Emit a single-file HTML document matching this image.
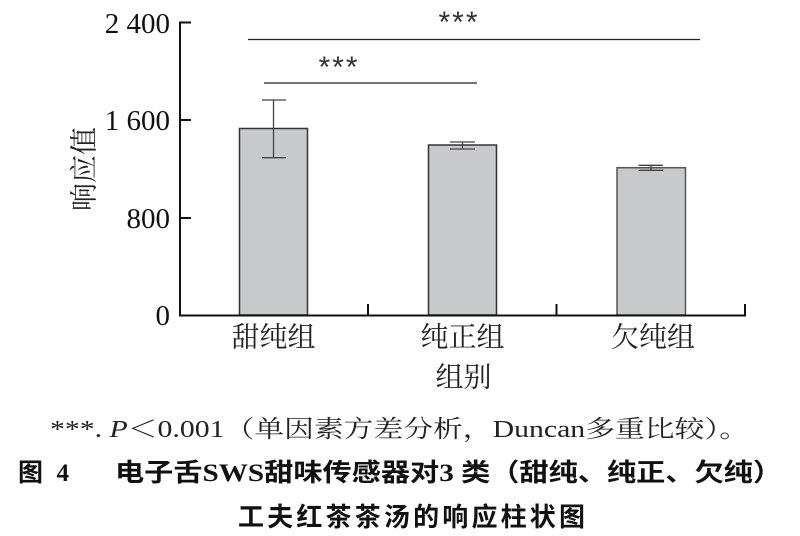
<!DOCTYPE html>
<html><head><meta charset="utf-8"><style>
html,body{margin:0;padding:0;background:#fff;}
svg{display:block;}
.num{font-family:"Liberation Serif",serif;font-size:29px;fill:#111;}
.cj{font-family:"Liberation Serif","Noto Serif CJK SC",serif;fill:#222;}
.bd{font-family:"Liberation Serif","Noto Sans CJK SC",sans-serif;font-weight:bold;fill:#111;}
</style></head><body>
<svg width="800" height="536" viewBox="0 0 800 536" xmlns="http://www.w3.org/2000/svg">
<!-- bars -->
<g fill="#c8c9cb" stroke="#333" stroke-width="1.5">
<rect x="239.5" y="128.5" width="68" height="186.5"/>
<rect x="428.5" y="145" width="68" height="170"/>
<rect x="617" y="167.7" width="68.5" height="147.3" stroke="#555"/>
</g>
<!-- error bars -->
<g stroke="#444" stroke-width="1.3" fill="none">
<line x1="273.5" y1="100" x2="273.5" y2="157.7"/>
<line x1="262" y1="100" x2="286" y2="100"/>
<line x1="262" y1="157.7" x2="286" y2="157.7"/>
<line x1="462.5" y1="142" x2="462.5" y2="149"/>
<line x1="450" y1="142" x2="475" y2="142"/>
<line x1="450" y1="149" x2="475" y2="149"/>
<line x1="651" y1="165.3" x2="651" y2="170.3"/>
<line x1="638.5" y1="165.3" x2="663" y2="165.3"/>
<line x1="638.5" y1="170.3" x2="663" y2="170.3"/>
</g>
<!-- axes -->
<g stroke="#111" stroke-width="2" fill="none">
<line x1="180" y1="21.5" x2="180" y2="316"/>
<line x1="179" y1="315.5" x2="746" y2="315.5"/>
<line x1="180" y1="22.5" x2="191" y2="22.5"/>
<line x1="180" y1="120" x2="191" y2="120"/>
<line x1="180" y1="218" x2="191" y2="218"/>
<line x1="368" y1="304" x2="368" y2="315"/>
<line x1="556.5" y1="304" x2="556.5" y2="315"/>
<line x1="745" y1="304" x2="745" y2="316"/>
</g>
<!-- significance lines -->
<g stroke="#222" stroke-width="1.3">
<line x1="248" y1="39.5" x2="700" y2="39.5"/>
<line x1="264" y1="83" x2="477" y2="83"/>
</g>
<text x="459" y="32" text-anchor="middle" font-family="Liberation Sans, sans-serif" font-size="30" fill="#333" letter-spacing="2">***</text>
<text x="339" y="77" text-anchor="middle" font-family="Liberation Sans, sans-serif" font-size="30" fill="#333" letter-spacing="2">***</text>
<!-- y tick labels -->
<text class="num" x="170" y="33" text-anchor="end">2 400</text>
<text class="num" x="170" y="130" text-anchor="end">1 600</text>
<text class="num" x="170" y="228" text-anchor="end">800</text>
<text class="num" x="170" y="325" text-anchor="end">0</text>
<!-- y axis label -->
<text class="cj" font-size="28" transform="translate(85,169) rotate(-90)" text-anchor="middle" dominant-baseline="central">响应值</text>
<!-- x labels -->
<text class="cj" font-size="28" x="273.5" y="338" text-anchor="middle" dominant-baseline="central">甜纯组</text>
<text class="cj" font-size="28" x="462.5" y="338" text-anchor="middle" dominant-baseline="central">纯正组</text>
<text class="cj" font-size="28" x="653" y="338" text-anchor="middle" dominant-baseline="central">欠纯组</text>
<text class="cj" font-size="28" x="463.5" y="378" text-anchor="middle" dominant-baseline="central">组别</text>
<!-- footnote -->
<text class="cj" font-size="24" x="50" y="437" textLength="699" lengthAdjust="spacingAndGlyphs">***. <tspan font-style="italic">P</tspan>＜0.001（单因素方差分析，Duncan多重比较）。</text>
<!-- caption -->
<text class="bd" font-size="25" x="18" y="481" textLength="51" lengthAdjust="spacing">图 4</text>
<text class="bd" font-size="25" x="115" y="481" textLength="667" lengthAdjust="spacingAndGlyphs">电子舌SWS甜味传感器对3 类（甜纯、纯正、欠纯）</text>
<text class="bd" font-size="26" x="238" y="526" textLength="347" lengthAdjust="spacing">工夫红茶茶汤的响应柱状图</text>
</svg>
</body></html>
